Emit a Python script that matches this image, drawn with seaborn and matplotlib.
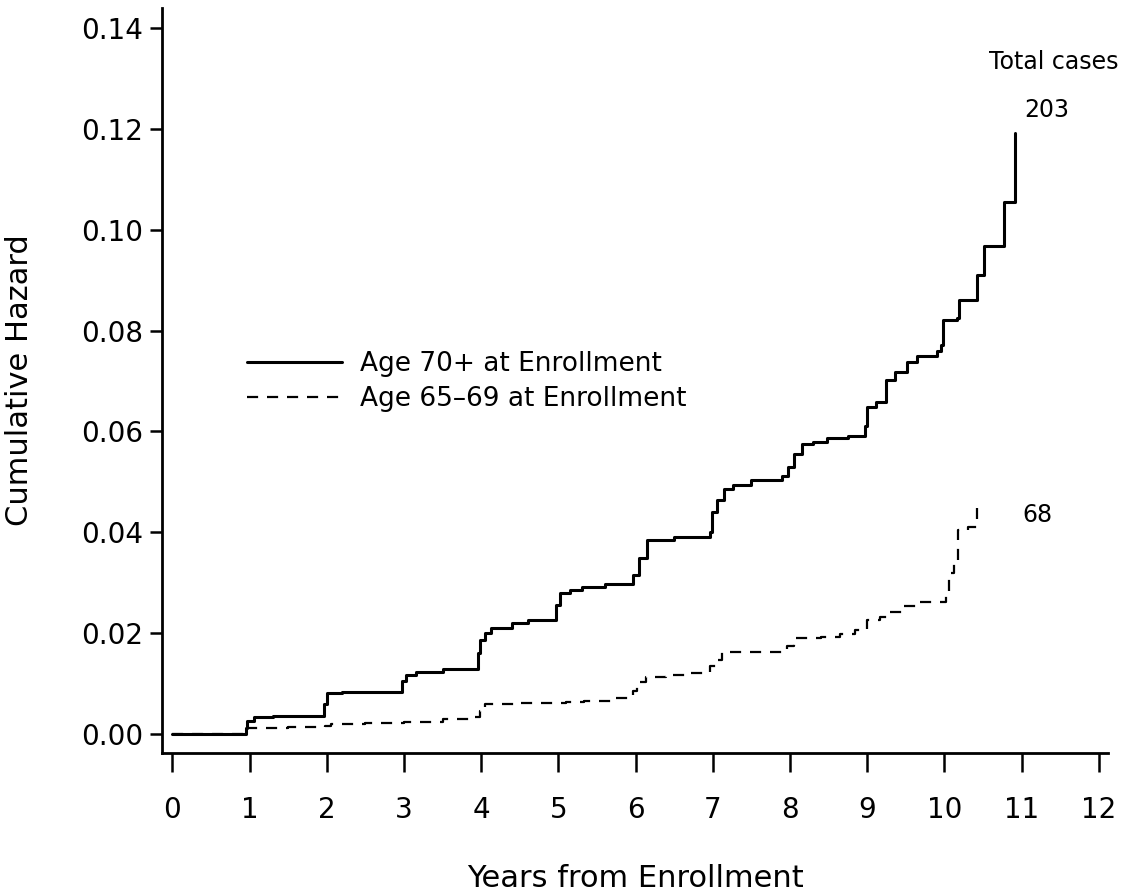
import numpy as np
import pandas as pd
import matplotlib
matplotlib.use('Agg')
import matplotlib.pyplot as plt
import seaborn as sns

# Cumulative hazard step points (years, hazard)
years_70 = [0.0, 0.95, 0.97, 1.05, 1.3, 1.96, 2.0, 2.2, 2.97, 3.02, 3.15, 3.5,
            3.96, 3.99, 4.05, 4.12, 4.4, 4.6, 4.97, 5.02, 5.15, 5.3, 5.6,
            5.96, 6.05, 6.15, 6.5, 6.96, 6.99, 7.05, 7.15, 7.26, 7.5, 7.9,
            7.97, 8.05, 8.15, 8.3, 8.48, 8.75, 8.97, 9.0, 9.12, 9.24, 9.36,
            9.52, 9.64, 9.9, 9.95, 9.98, 10.17, 10.19, 10.42, 10.51, 10.77, 10.91]
hazard_70 = [0.0, 0.0012, 0.0026, 0.0034, 0.0036, 0.0060, 0.0081, 0.0084, 0.0105,
             0.0117, 0.0123, 0.0128, 0.0160, 0.0186, 0.0200, 0.0210, 0.0220,
             0.0226, 0.0255, 0.0280, 0.0286, 0.0292, 0.0298, 0.0315, 0.0350,
             0.0385, 0.0390, 0.0400, 0.0440, 0.0464, 0.0485, 0.0494, 0.0504,
             0.0512, 0.0530, 0.0555, 0.0575, 0.0580, 0.0587, 0.0592, 0.0610,
             0.0648, 0.0658, 0.0702, 0.0718, 0.0738, 0.0750, 0.0760, 0.0771,
             0.0821, 0.0825, 0.0861, 0.0910, 0.0968, 0.1055, 0.1192]

years_65 = [0.0, 0.96, 1.5, 1.97, 2.05, 2.5, 3.0, 3.5, 3.87, 3.98, 4.05, 4.5,
            5.1, 5.33, 5.7, 5.97, 6.02, 6.14, 6.4, 6.7, 6.97, 7.05, 7.12, 7.96,
            8.05, 8.4, 8.65, 8.84, 9.0, 9.16, 9.3, 9.45, 9.65, 10.02, 10.06,
            10.12, 10.18, 10.31, 10.42]
hazard_65 = [0.0, 0.0011, 0.0013, 0.0016, 0.0019, 0.0022, 0.0024, 0.0029, 0.0034,
             0.0045, 0.0059, 0.0061, 0.0063, 0.0066, 0.0071, 0.0085, 0.0103,
             0.0113, 0.0117, 0.0121, 0.0135, 0.0147, 0.0163, 0.0175, 0.0190,
             0.0192, 0.0198, 0.0206, 0.0226, 0.0232, 0.0242, 0.0254, 0.0262,
             0.0280, 0.0319, 0.0345, 0.0405, 0.0410, 0.0448]

labels = ['Age 70+ at Enrollment', 'Age 65–69 at Enrollment']
total_cases = ['203', '68']
x_ticks = list(range(0, 13))
y_ticks = [0.00, 0.02, 0.04, 0.06, 0.08, 0.10, 0.12, 0.14]

sns.set_style('ticks')
plt.rcParams['font.family'] = ['DejaVu Sans']
for key in ['text.color', 'axes.labelcolor', 'xtick.color', 'ytick.color', 'axes.edgecolor']:
    plt.rcParams[key] = 'black'

df70 = pd.DataFrame({'years': years_70, 'hazard': hazard_70})
df65 = pd.DataFrame({'years': years_65, 'hazard': hazard_65})

fig = plt.figure(figsize=(11.25, 8.96), dpi=100)
ax = fig.add_axes([162/1125, 1 - 753/896, (1108 - 162)/1125, (753 - 8)/896])

sns.lineplot(data=df70, x='years', y='hazard', ax=ax, color='black',
             linewidth=2.2, drawstyle='steps-post', estimator=None, sort=False,
             label=labels[0])
sns.lineplot(data=df65, x='years', y='hazard', ax=ax, color='black',
             linewidth=1.6, linestyle=(0, (5, 4)), drawstyle='steps-post',
             estimator=None, sort=False, label=labels[1])

ax.set_xlim(-0.136, 12.12)
ax.set_ylim(-0.00377, 0.144)
ax.set_xticks(x_ticks)
ax.set_yticks(y_ticks)
ax.set_yticklabels([f'{v:.2f}' for v in y_ticks])

for side in ['top', 'right']:
    ax.spines[side].set_visible(False)
for side in ['left', 'bottom']:
    ax.spines[side].set_linewidth(2)
    ax.spines[side].set_color('black')

ax.tick_params(axis='x', direction='out', length=14, width=1.8, pad=17,
               labelsize=20, colors='black')
ax.tick_params(axis='y', direction='out', length=8.5, width=1.8, pad=5,
               labelsize=20, colors='black')

ax.set_xlabel('Years from Enrollment', fontsize=22, color='black')
ax.set_ylabel('Cumulative Hazard', fontsize=22, color='black')
ax.xaxis.set_label_coords(0.5, -(878 - 753)/745)
ax.yaxis.set_label_coords(-(162 - 20)/946, 0.5)
ax.xaxis.label.set_va('center')
ax.yaxis.label.set_va('center')

ax.text(11.42, 0.1333, 'Total cases', fontsize=17, ha='center', va='center', color='black')
ax.text(11.33, 0.1237, total_cases[0], fontsize=17, ha='center', va='center', color='black')
ax.text(11.21, 0.0434, total_cases[1], fontsize=17, ha='center', va='center', color='black')

leg = ax.legend(frameon=False, loc='center left',
                bbox_to_anchor=(247/1125, 1 - 381.5/896), bbox_transform=fig.transFigure,
                handlelength=3.6, handletextpad=0.7, borderpad=0, borderaxespad=0,
                labelspacing=0.35, fontsize=19)
for t in leg.get_texts():
    t.set_color('black')

plt.savefig('out.png', dpi=100)
plt.close()
